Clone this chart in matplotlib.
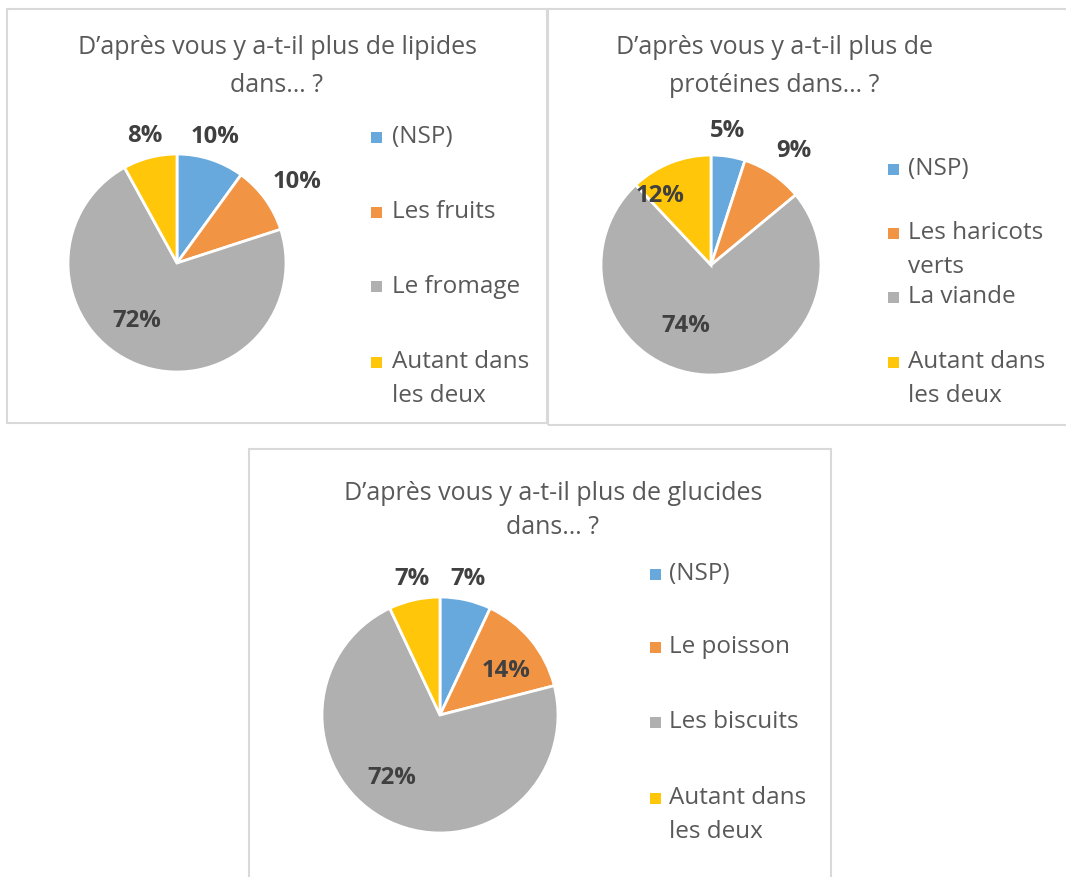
import matplotlib
matplotlib.use("Agg")
import matplotlib.pyplot as plt
import numpy as np
from matplotlib.patches import Rectangle

# ---------------- data ----------------
titles = [
    ["D\u2019après vous y a-t-il plus de lipides", "dans\u2026 ?"],
    ["D\u2019après vous y a-t-il plus de", "protéines dans\u2026 ?"],
    ["D\u2019après vous y a-t-il plus de glucides", "dans\u2026 ?"],
]
legend_labels = [
    [["(NSP)"], ["Les fruits"], ["Le fromage"], ["Autant dans", "les deux"]],
    [["(NSP)"], ["Les haricots", "verts"], ["La viande"], ["Autant dans", "les deux"]],
    [["(NSP)"], ["Le poisson"], ["Les biscuits"], ["Autant dans", "les deux"]],
]
values_lipides = [10, 10, 72, 8]
values_proteines = [5, 9, 74, 12]
values_glucides = [7, 14, 72, 7]
all_values = [values_lipides, values_proteines, values_glucides]

# ---------------- style / layout ----------------
W, H = 1066, 877
colors = ["#67A9DC", "#F19444", "#B0B0B0", "#FFC60A"]
title_color = "#595959"
label_color = "#404040"
FONT = "Open Sans"

# pie centers / radii (px)
pie_geom = [((177, 263), 109), ((711, 265), 110), ((440, 715), 118)]
# label placement (radial factor, angle offset deg)
label_place = [
    [(1.21, 1), (1.33, -2), (0.65, -13), (1.20, 0)],
    [(1.23, 2), (1.28, -2), (0.60, -19), (0.78, 15)],
    [(1.18, 1), (0.67, -6), (0.67, -12), (1.18, -1)],
]
# panel boxes (x0, y0, x1, y1) px
boxes = [(7, 9, 547, 423), (548, 9, 1075, 425), (249, 449, 831, 890)]
title_pos = [(277, 48, 85), (774, 48, 85), (553, 493, 528)]
legend_pos = [
    (376, 392, [137, 212, 287, 362]),
    (893, 908, [169, 233, 297, 362]),
    (655, 669, [574, 647, 722, 798]),
]
line_gap = 34

fig = plt.figure(figsize=(W / 100, H / 100), dpi=100)
fig.patch.set_facecolor("white")


def fx(x):
    return x / W


def fy(y):
    return 1 - y / H


# panel boxes
for (x0, y0, x1, y1) in boxes:
    fig.patches.append(Rectangle((fx(x0), fy(y1)), fx(x1 - x0), (y1 - y0) / H,
                                 transform=fig.transFigure, fill=False,
                                 edgecolor="#D9D9D9", linewidth=1.5, zorder=0))

for i in range(3):
    (cx, cy), r = pie_geom[i]
    R = r * 1.6
    ax = fig.add_axes([fx(cx - R), fy(cy + R), 2 * R / W, 2 * R / H])
    ax.axis("off")
    vals = all_values[i]
    wedges, _ = ax.pie(vals, colors=colors, startangle=90, counterclock=False,
                       radius=1.0, wedgeprops=dict(edgecolor="white", linewidth=2))
    ax.set_xlim(-1.6, 1.6)
    ax.set_ylim(-1.6, 1.6)
    ax.set_aspect("equal")
    for w, v, (d, off) in zip(wedges, vals, label_place[i]):
        ang = np.deg2rad((w.theta1 + w.theta2) / 2 + off)
        ax.text(d * np.cos(ang), d * np.sin(ang), f"{v}%", ha="center", va="center",
                fontsize=17.2, fontweight="bold", color=label_color, family=FONT)

    # titles
    tx, ty1, ty2 = title_pos[i]
    fig.text(fx(tx), fy(ty1), titles[i][0], ha="center", va="center",
             fontsize=18, color=title_color, family=FONT)
    fig.text(fx(tx), fy(ty2), titles[i][1], ha="center", va="center",
             fontsize=18, color=title_color, family=FONT)

    # legend
    mx, txx, ys = legend_pos[i]
    for c, lab, y in zip(colors, legend_labels[i], ys):
        fig.patches.append(Rectangle((fx(mx - 5.5), fy(y + 5.5)), 11 / W, 11 / H,
                                     transform=fig.transFigure, facecolor=c,
                                     edgecolor="none"))
        for k, line in enumerate(lab):
            fig.text(fx(txx), fy(y + k * line_gap), line, ha="left", va="center",
                     fontsize=17.5, color=title_color, family=FONT)

fig.savefig("out.png", dpi=100, facecolor="white")
